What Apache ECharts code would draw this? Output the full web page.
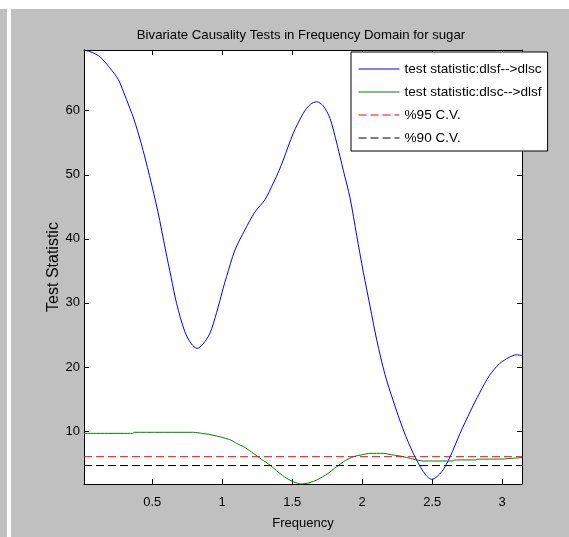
<!DOCTYPE html>
<html>
<head>
<meta charset="utf-8">
<script src="https://cdn.jsdelivr.net/npm/echarts@6/dist/echarts.min.js"></script>
<style>
  html, body { margin: 0; padding: 0; background: #c0c0c0; }
  #main { width: 569px; height: 537px; }
</style>
</head>
<body>
<div id="main"></div>
<script>
// frequency range (0..pi) and axis limits
const xMin = 0.0126
const xMax = 3.1416
const yMin = 1.73
const yMax = 69.48

const xTicks = [0.5, 1, 1.5, 2, 2.5, 3]
const yTicks = [10, 20, 30, 40, 50, 60]

// test statistic dlsf --> dlsc (blue)
const freqBlue = [0.0126, 0.07, 0.126, 0.197, 0.257, 0.292, 0.34, 0.369, 0.42, 0.48, 0.54, 0.595, 0.635, 0.674, 0.733, 0.78, 0.821, 0.86, 0.912, 0.96, 1.007, 1.031, 1.091, 1.162, 1.234, 1.305, 1.365, 1.407, 1.436, 1.508, 1.579, 1.63, 1.675, 1.72, 1.77, 1.822, 1.865, 1.913, 1.961, 2.008, 2.056, 2.104, 2.163, 2.222, 2.294, 2.365, 2.437, 2.497, 2.568, 2.628, 2.699, 2.771, 2.84, 2.91, 2.98, 3.05, 3.1, 3.1416]
const statBlue = [69.48, 69.1, 68.43, 66.7, 64.9, 63.1, 60.4, 58.7, 55.0, 49.9, 44.3, 38.25, 34.0, 29.93, 25.5, 23.6, 22.9, 23.5, 25.25, 28.5, 32.3, 34.1, 38.25, 41.4, 44.2, 46.1, 48.7, 50.7, 52.3, 56.5, 59.6, 61.0, 61.4, 60.8, 58.8, 54.6, 50.7, 46.4, 40.5, 34.8, 29.5, 24.2, 18.8, 14.7, 10.16, 6.52, 3.65, 2.46, 3.65, 5.99, 9.64, 13.0, 16.0, 18.7, 20.5, 21.5, 21.9, 21.8]

// test statistic dlsc --> dlsf (green)
const freqGreen = [0.0126, 0.36, 0.371, 0.786, 0.902, 0.983, 1.06, 1.103, 1.165, 1.222, 1.28, 1.341, 1.4, 1.46, 1.51, 1.564, 1.62, 1.686, 1.75, 1.818, 1.88, 1.936, 2.0, 2.056, 2.151, 2.21, 2.27, 2.33, 2.39, 2.437, 2.65, 2.66, 2.81, 2.82, 3.0, 3.08, 3.1416]
const statGreen = [9.64, 9.64, 9.8, 9.8, 9.48, 9.11, 8.6, 8.07, 7.4, 6.52, 5.6, 4.69, 3.6, 2.62, 2.05, 1.73, 1.9, 2.46, 3.3, 4.43, 5.4, 5.99, 6.3, 6.52, 6.52, 6.3, 6.1, 5.8, 5.47, 5.32, 5.32, 5.47, 5.5, 5.6, 5.63, 5.75, 5.85]

// critical values
const cv95 = 5.99
const cv90 = 4.61

const seriesNames = ['test statistic:dlsf-->dlsc', 'test statistic:dlsc-->dlsf', '%95 C.V.', '%90 C.V.']

const font = '"Liberation Sans", Arial, sans-serif'

const chart = echarts.init(document.getElementById('main'), null, { renderer: 'canvas' })

const pairs = (xs, ys) => xs.map((x, i) => [x, ys[i]])

const hiddenAxis = {
  axisLabel: { show: false },
  splitLine: { show: false }
}

const option = {
  backgroundColor: '#c0c0c0',
  animation: false,
  textStyle: { fontFamily: font },
  title: {
    text: 'Bivariate Causality Tests in Frequency Domain for sugar',
    left: 296,
    top: 24,
    textAlign: 'center',
    textStyle: { fontFamily: font, fontSize: 13.2, fontWeight: 'normal', color: '#000' }
  },
  grid: {
    left: 84, top: 50, width: 438, height: 434,
    show: true, backgroundColor: '#fff', borderWidth: 0
  },
  legend: {
    orient: 'vertical',
    left: 351,
    top: 52,
    data: seriesNames,
    backgroundColor: '#fff',
    borderColor: '#000',
    borderWidth: 1,
    borderRadius: 0,
    padding: [10, 6, 6, 7],
    itemWidth: 41,
    itemHeight: 14,
    itemGap: 9,
    itemStyle: { opacity: 0 },
    lineStyle: {
      color: 'inherit', width: 1, type: 'inherit', opacity: 'inherit',
      cap: 'inherit', join: 'inherit', dashOffset: 'inherit', miterLimit: 'inherit',
      shadowBlur: 'inherit', shadowColor: 'inherit', shadowOffsetX: 'inherit', shadowOffsetY: 'inherit'
    },
    textStyle: { fontFamily: font, fontSize: 13.6, color: '#000' }
  },
  xAxis: [
    {
      type: 'value', min: xMin, max: xMax, position: 'bottom',
      name: 'Frequency', nameLocation: 'middle', nameGap: 33, nameMoveOverlap: false,
      nameTextStyle: { fontFamily: font, fontSize: 13, color: '#000' },
      axisLine: { show: true, lineStyle: { color: '#000', width: 1 } },
      axisTick: { show: true, inside: true, length: 5, customValues: xTicks, lineStyle: { color: '#000' } },
      axisLabel: { show: true, customValues: xTicks, margin: 12, fontFamily: font, fontSize: 13, color: '#000' },
      splitLine: { show: false }
    },
    Object.assign({
      type: 'value', min: xMin, max: xMax, position: 'top',
      axisLine: { show: true, lineStyle: { color: '#000', width: 1 } },
      axisTick: { show: true, inside: true, length: 5, customValues: xTicks, lineStyle: { color: '#000' } }
    }, hiddenAxis)
  ],
  yAxis: [
    {
      type: 'value', min: yMin, max: yMax, position: 'left',
      name: 'Test Statistic', nameLocation: 'middle', nameGap: 22, nameRotate: 90, nameMoveOverlap: false,
      nameTextStyle: { fontFamily: font, fontSize: 16, color: '#000' },
      axisLine: { show: true, lineStyle: { color: '#000', width: 1 } },
      axisTick: { show: true, inside: true, length: 5, customValues: yTicks, lineStyle: { color: '#000' } },
      axisLabel: { show: true, customValues: yTicks, margin: 4, fontFamily: font, fontSize: 13, color: '#000' },
      splitLine: { show: false }
    },
    Object.assign({
      type: 'value', min: yMin, max: yMax, position: 'right',
      axisLine: { show: true, lineStyle: { color: '#000', width: 1 } },
      axisTick: { show: true, inside: true, length: 5, customValues: yTicks, lineStyle: { color: '#000' } }
    }, hiddenAxis)
  ],
  graphic: [
    { type: 'rect', left: 0, top: 0, shape: { width: 569, height: 9 }, style: { fill: '#fff' }, silent: true },
    { type: 'rect', left: 7, top: 0, shape: { width: 4, height: 537 }, style: { fill: '#fff' }, silent: true }
  ],
  series: [
    {
      name: seriesNames[0], type: 'line', symbol: 'none', smooth: 0.3,
      data: pairs(freqBlue, statBlue),
      lineStyle: { color: '#0000ff', width: 1 }, itemStyle: { color: '#0000ff' }
    },
    {
      name: seriesNames[1], type: 'line', symbol: 'none', smooth: 0.2,
      data: pairs(freqGreen, statGreen),
      lineStyle: { color: '#008000', width: 1 }, itemStyle: { color: '#008000' }
    },
    {
      name: seriesNames[2], type: 'line', symbol: 'none',
      data: [[xMin, cv95], [xMax, cv95]],
      lineStyle: { color: '#ff0000', width: 1, type: [8, 4] }, itemStyle: { color: '#ff0000' }
    },
    {
      name: seriesNames[3], type: 'line', symbol: 'none',
      data: [[xMin, cv90], [xMax, cv90]],
      lineStyle: { color: '#000', width: 1, type: [8, 4] }, itemStyle: { color: '#000' }
    }
  ]
}

chart.setOption(option)
</script>
</body>
</html>
